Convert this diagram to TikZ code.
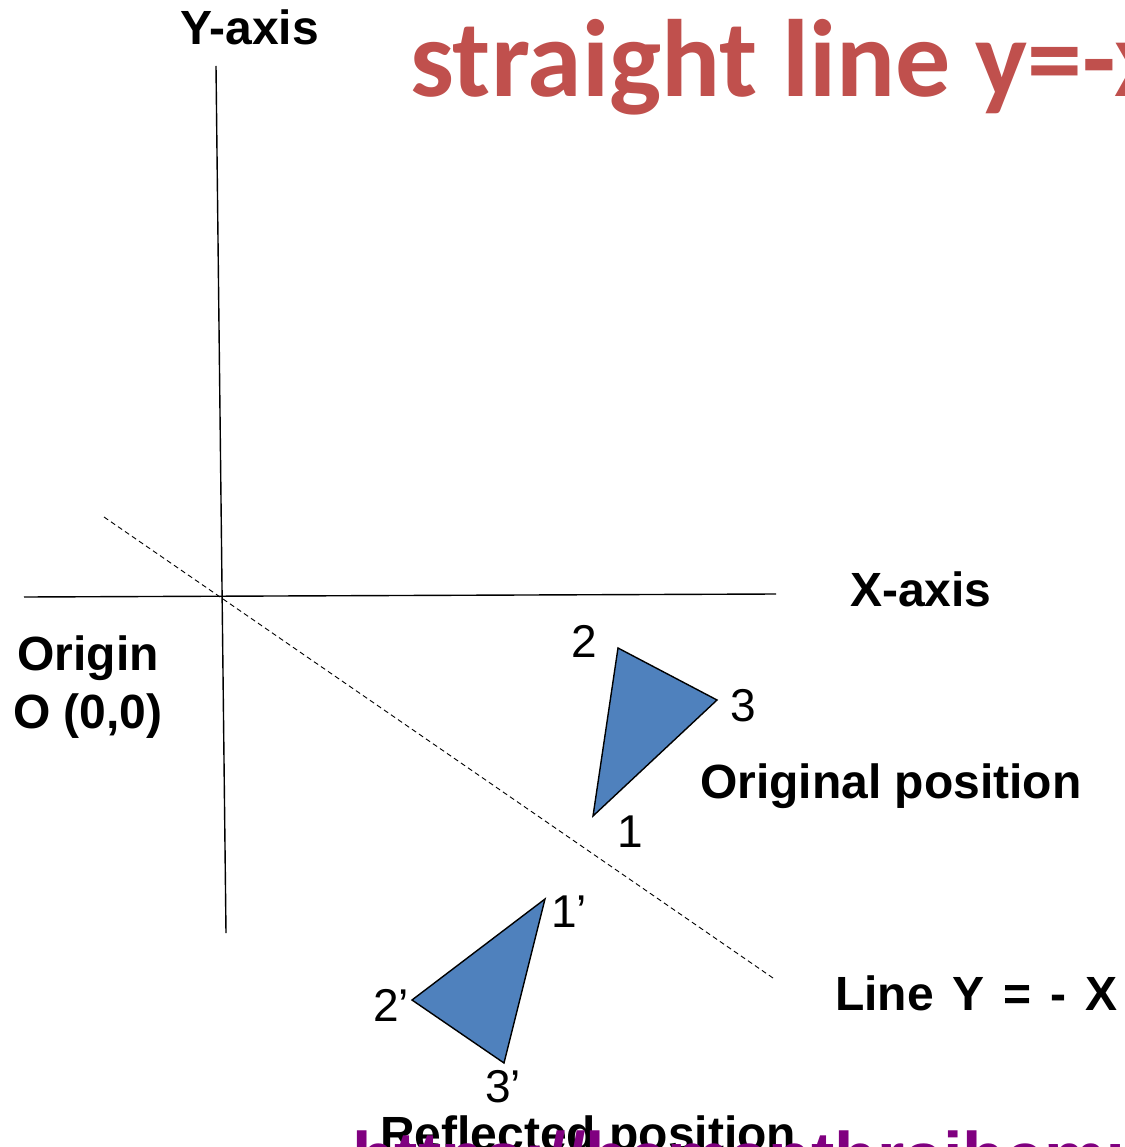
\documentclass[tikz,border=0pt]{standalone}
\usepackage{fontspec}
\setmainfont{Liberation Sans}
\newfontfamily\titlefont{Carlito}
\definecolor{titlered}{HTML}{C0504D}
\definecolor{trifill}{HTML}{4F81BD}
\definecolor{urlpurple}{HTML}{800080}
\begin{document}
\begin{tikzpicture}[x=1pt,y=-1pt,
  lbl/.style={font=\fontsize{48}{52}\selectfont\bfseries, inner sep=0pt, anchor=base west},
  num/.style={font=\fontsize{46}{50}\selectfont, inner sep=0pt},
  axis/.style={line width=1.4pt, black},
  tri/.style={draw=black, line width=1.4pt, fill=trifill, line join=miter},
  mirror/.style={line width=0.9pt, dash pattern=on 5pt off 3.5pt}]
\clip (0,0) rectangle (1124,1147);
\fill[white] (0,0) rectangle (1124,1147);
% axes
\coordinate (ytop) at (216,66);
\coordinate (ybot) at (226,933);
\coordinate (xleft) at (24,597);
\coordinate (xright) at (776,594);
\coordinate (mA) at (104,517);
\coordinate (mB) at (773,978);
\draw[axis] (ytop) -- (ybot);
\draw[axis] (xleft) -- (xright);
\draw[mirror] (mA) -- (mB);
% triangles
\coordinate (p1) at (593,816);
\coordinate (p2) at (618,648);
\coordinate (p3) at (717,700);
\coordinate (q1) at (545,899);
\coordinate (q2) at (412,1000);
\coordinate (q3) at (504,1063);
\draw[tri] (p1) -- (p2) -- (p3) -- cycle;
\draw[tri] (q1) -- (q2) -- (q3) -- cycle;
% vertex labels
\node[num] (n2) at (584,641) {2};
\node[num] (n3) at (743,706) {3};
\node[num] (n1) at (630,832) {1};
\node[num] (n1p) at (569,912) {1’};
\node[num] (n2p) at (391,1005) {2’};
\node[num] (n3p) at (503,1087) {3’};
% text labels
\node[lbl] (yaxis) at (180,45) {Y-axis};
\node[lbl] (xaxis) at (850,606) {X-axis};
\node[lbl, anchor=base] (orig1) at (88,670) {Origin};
\node[lbl, anchor=base] (orig2) at (88,728) {O (0,0)};
\node[lbl] (origpos) at (700,798) {Original position};
\node[lbl] (liney) at (835,1010) {\spaceskip=19pt Line Y = - X};
\node[lbl] (reflpos) at (380,1150) {Reflected position};
\node[font=\fontsize{70}{80}\selectfont\bfseries, text=urlpurple, inner sep=0pt, anchor=base west] (url) at (352,1181) {https://hemanthrajhemu.github.io};
% title
\node[font=\titlefont\fontsize{110}{120}\selectfont\bfseries, text=titlered, inner sep=0pt, anchor=base west] (title) at (410,97) {straight line y=-x};
\end{tikzpicture}
\end{document}
